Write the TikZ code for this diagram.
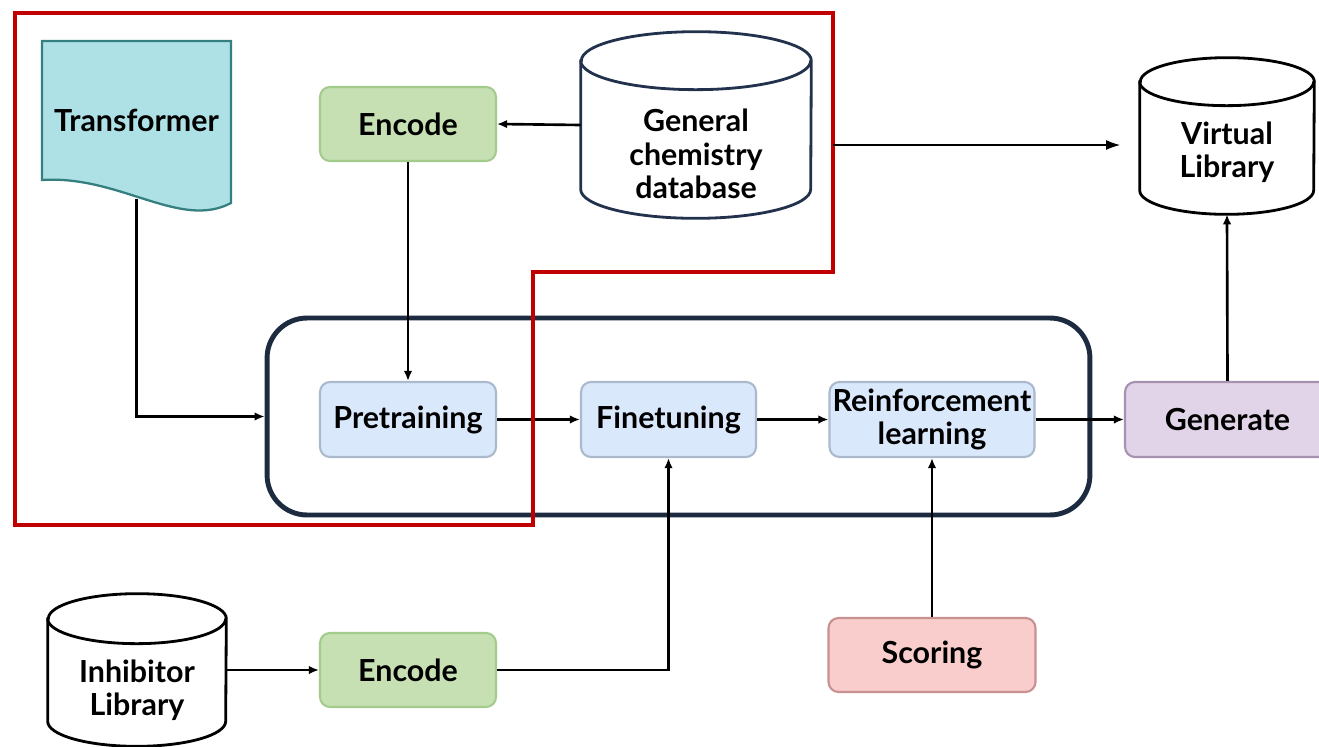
\documentclass[tikz,border=0pt]{standalone}
\usepackage{fontspec}
\setmainfont{Lato}
\usetikzlibrary{arrows.meta, calc}

\definecolor{trffill}{HTML}{AEE1E5}
\definecolor{trfline}{HTML}{357F80}
\definecolor{encfill}{HTML}{C6E0B4}
\definecolor{encline}{HTML}{A3CB8C}
\definecolor{prefill}{HTML}{DAE8FB}
\definecolor{preline}{HTML}{AAB9CC}
\definecolor{genfill}{HTML}{E2D4E8}
\definecolor{genline}{HTML}{A692B0}
\definecolor{scorefill}{HTML}{F8CDCC}
\definecolor{scoreline}{HTML}{C8918F}
\definecolor{loopline}{HTML}{1C2B40}
\definecolor{framered}{HTML}{C00000}
\definecolor{dbnavy}{HTML}{22324D}

% cylinder outline round a node: name, half width, ry, colour
\newcommand{\drawcyl}[4]{%
  \draw[line width=1.6pt, draw=#4, fill=white]
    ($(#1.north west)+(0,-#3)$) -- ($(#1.south west)+(0,#3)$)
    arc[start angle=180, end angle=360, x radius=#2, y radius=#3]
    -- ($(#1.north east)+(0,-#3)$)
    arc[start angle=0, end angle=180, x radius=#2, y radius=#3] -- cycle;
  \draw[line width=1.6pt, draw=#4] ($(#1.north west)+(0,-#3)$)
    arc[start angle=180, end angle=360, x radius=#2, y radius=#3];
}

\tikzset{
  lbl/.style={inner sep=0pt, align=center, font=\bfseries\fontsize{17.3}{19}\selectfont},
  box/.style={lbl, rectangle, rounded corners=0.2cm, line width=1.2pt, minimum height=1.5cm},
  encbox/.style={box, draw=encline, fill=encfill, minimum width=3.52cm, minimum height=1.48cm},
  trainbox/.style={box, draw=preline, fill=prefill},
  genbox/.style={box, draw=genline, fill=genfill, minimum width=4.1cm},
  scorebox/.style={box, draw=scoreline, fill=scorefill, minimum width=4.14cm, minimum height=1.48cm},
  dbnode/.style={inner sep=0pt, draw=none},
  arr/.style={-{Latex[length=2mm,width=1.7mm]}, line width=1.5pt},
  thinarr/.style={-{Latex[length=2.8mm,width=2mm]}, line width=0.6pt}
}

\begin{document}
\begin{tikzpicture}[x=0.02cm, y=0.02cm]
  \useasboundingbox (0,0) rectangle (1319,-747);
  \clip (0,0) rectangle (1319,-747);

  % model loop
  \node[draw=loopline, line width=2.8pt, rounded corners=0.8cm,
        minimum width=16.46cm, minimum height=3.94cm] (loop) at (678.5,-416.5) {};

  % transformer document
  \draw[draw=trfline, fill=trffill, line width=1.3pt]
    (42,-41) -- (231,-41) -- (231,-203)
    .. controls (180,-230) and (120,-175) .. (42,-180) -- cycle;
  \node[lbl, minimum width=3.78cm, minimum height=3.16cm] (trf) at (136.5,-120) {Transformer};

  % databases
  \node[dbnode, minimum width=4.6cm, minimum height=3.72cm] (gdb) at (696,-125) {};
  \drawcyl{gdb}{115}{29}{dbnavy}
  \node[lbl] (gdblbl) at (696,-154) {General\\chemistry\\database};

  \node[dbnode, minimum width=3.48cm, minimum height=3.12cm] (vlib) at (1227,-136) {};
  \drawcyl{vlib}{87}{24}{black}
  \node[lbl] (vliblbl) at (1227,-152) {Virtual\\Library};

  \node[dbnode, minimum width=3.56cm, minimum height=3.04cm] (inh) at (137,-670) {};
  \drawcyl{inh}{89}{25}{black}
  \node[lbl] (inhlbl) at (137,-690) {Inhibitor\\Library};

  % steps
  \node[encbox] (enc1) at (408,-124) {Encode};
  \node[trainbox, minimum width=3.52cm] (pre) at (408,-419.5) {Pretraining};
  \node[trainbox, minimum width=3.5cm] (fine) at (668.5,-419.5) {Finetuning};
  \node[trainbox, minimum width=4.1cm] (rl) at (932,-419.5) {Reinforcement\\learning};
  \node[genbox, minimum width=4.1cm] (gen) at (1227.5,-419.5) {Generate};
  \node[encbox] (enc2) at (408,-670) {Encode};
  \node[scorebox] (score) at (932,-655) {Scoring};

  % connectors
  \draw[arr] (gdb.west) -- (enc1.east);
  \draw[arr] (enc1.south) -- (pre.north);
  \draw[arr] (trf.south) |- (loop.west);
  \draw[arr] (pre.east) -- (fine.west);
  \draw[arr] (fine.east) -- (rl.west);
  \draw[arr] (rl.east) -- (gen.west);
  \draw[arr] (gen.north) -- (vlib.south);
  \draw[arr] (inh.east) -- (enc2.west);
  \draw[arr] (enc2.east) -| (fine.south);
  \draw[arr] (score.north) -- (rl.south);

  % pretraining frame
  \draw[draw=framered, line width=2.3pt]
    (15,-13) -- (833,-13) -- (833,-272) -- (533,-272) -- (533,-525) -- (15,-525) -- cycle;
  \coordinate (frameR) at (833,-145);
  \coordinate (vlibIn) at (1120,-145);
  \draw[thinarr] (frameR) -- (vlibIn);
\end{tikzpicture}
\end{document}
